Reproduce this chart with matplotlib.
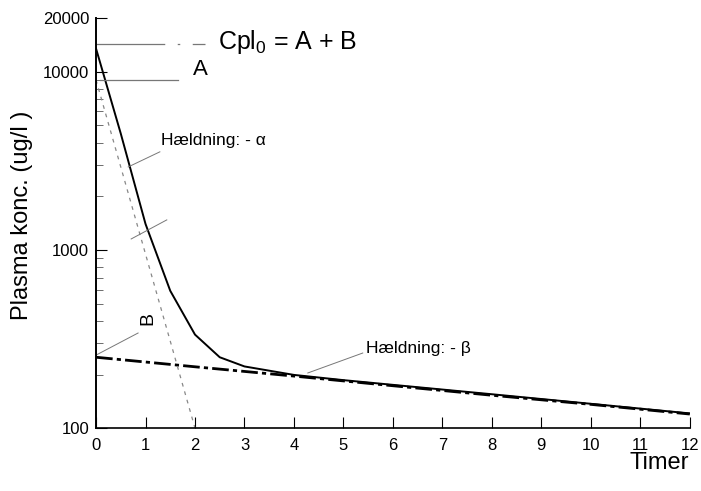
import matplotlib
matplotlib.use("Agg")
import matplotlib.pyplot as plt
from matplotlib.ticker import LogLocator, FixedLocator, NullFormatter

plt.rcParams['font.family'] = ['Liberation Sans', 'DejaVu Sans']
plt.rcParams['mathtext.fontset'] = 'custom'
plt.rcParams['mathtext.rm'] = 'Liberation Sans'

# Målt plasmakoncentration (hel kurve)
t_total = [0, 0.5, 1, 1.5, 2, 2.5, 3, 4, 5, 6, 8, 10, 12]
c_total = [13500, 4500, 1400, 590, 335, 250, 222, 199, 186, 175, 155, 137, 121]

# Beta-fase (langsom eliminering)
t_beta = [0, 2, 4, 6, 8, 10, 12]
c_beta = [250, 221, 196, 173, 153, 136, 120]

# Alfa-fase (fordeling)
t_alpha = [0, 2]
c_alpha = [9000, 100]

x_ticks = list(range(0, 13))
y_ticks = [100, 1000, 10000, 20000]
y_labels = ['100', '1000', '10000', '20000']

fig = plt.figure(figsize=(7.01, 4.91), dpi=100)
ax = fig.add_axes([0.137, 0.128, 0.847, 0.835])

ax.plot(t_total, c_total, color='black', lw=1.4)
ax.plot(t_beta, c_beta, color='black', lw=2.0, linestyle=(0, (6, 1.5, 1.5, 1.5)))
ax.plot(t_alpha, c_alpha, color='#888888', lw=0.9, linestyle=(0, (3, 4)))

# Hjælpelinjer
grey = '#777777'
ax.plot([0, 2.2], [14300, 14300], color=grey, lw=0.9, linestyle=(0, (55, 10, 2, 10)))
ax.plot([0.08, 1.65], [9000, 9000], color=grey, lw=0.9)
ax.plot([0.65, 1.29], [2924, 3555], color=grey, lw=0.7)
ax.plot([0.71, 1.43], [1153, 1475], color=grey, lw=0.7)
ax.plot([0, 0.85], [257, 342], color=grey, lw=0.7)
ax.plot([4.28, 5.39], [204, 264], color=grey, lw=0.7)

ax.text(2.46, 14750, 'Cpl$_0$ = A + B', fontsize=18, va='center', ha='left')
ax.text(1.96, 10250, 'A', fontsize=16, va='center', ha='left')
ax.text(1.32, 4100, 'Hældning: - α', fontsize=12.5, va='center', ha='left')
ax.text(5.45, 281, 'Hældning: - β', fontsize=12.5, va='center', ha='left')
ax.text(1.05, 415, 'B', fontsize=14, va='center', ha='center', rotation=90)

ax.set_yscale('log')
ax.set_xlim(0, 12)
ax.set_ylim(100, 20000)
ax.xaxis.set_major_locator(FixedLocator(x_ticks))
ax.yaxis.set_major_locator(FixedLocator(y_ticks))
ax.set_yticklabels(y_labels)
ax.yaxis.set_minor_locator(LogLocator(base=10, subs=range(2, 10)))
ax.yaxis.set_minor_formatter(NullFormatter())

for s in ['top', 'right']:
    ax.spines[s].set_visible(False)
ax.spines['left'].set_linewidth(1.4)
ax.spines['bottom'].set_linewidth(1.2)

ax.tick_params(axis='both', which='major', direction='in', length=8, width=0.8, labelsize=12)
ax.tick_params(axis='y', which='minor', direction='in', length=5, width=0.6, color='#555555')
ax.tick_params(axis='x', pad=7)
ax.tick_params(axis='y', pad=5)

ax.set_ylabel('Plasma konc. (ug/l )', fontsize=17)
ax.yaxis.set_label_coords(-0.106, 0.52)
fig.text(0.94, 0.058, 'Timer', fontsize=17, ha='center', va='center')

fig.savefig('out.png', dpi=100)
